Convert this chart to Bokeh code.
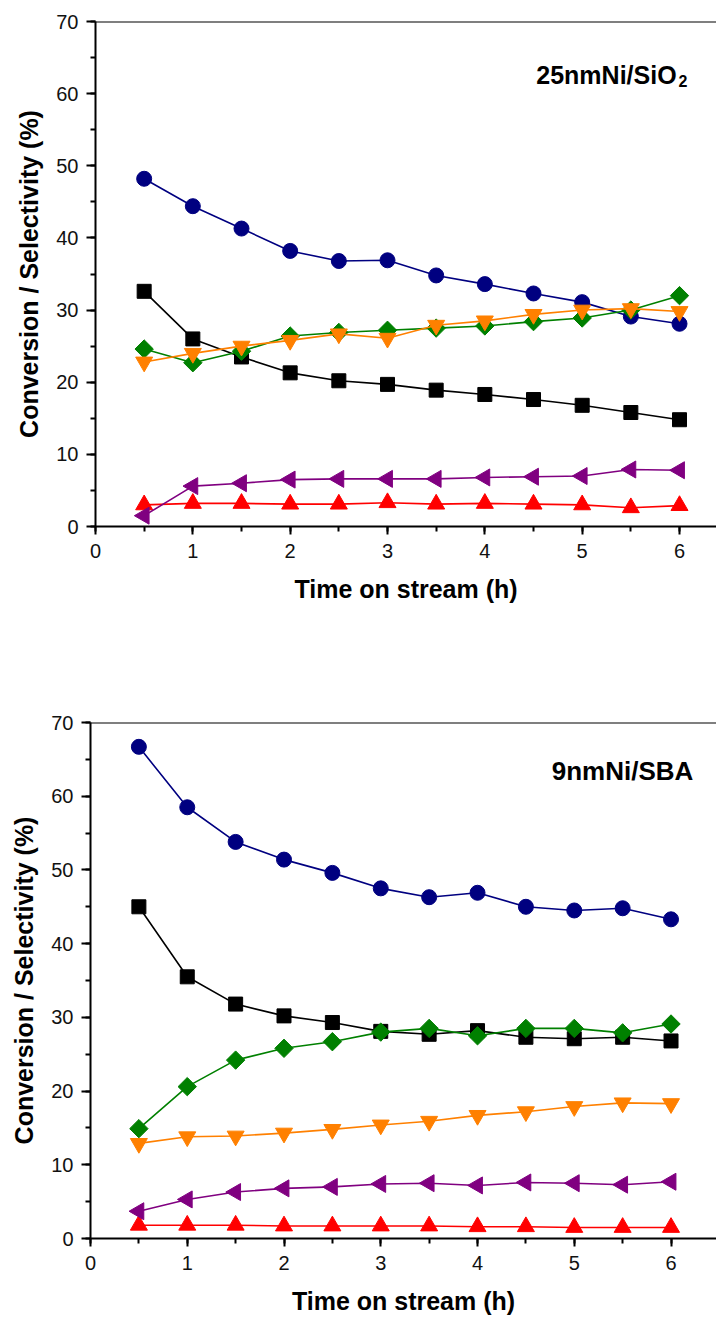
import math
from bokeh.plotting import figure
from bokeh.layouts import column, row
from bokeh.models import Range1d, SingleIntervalTicker, Span, Label
from bokeh.embed import file_html
from bokeh.resources import INLINE

time_h = [0.5, 1.0, 1.5, 2.0, 2.5, 3.0, 3.5, 4.0, 4.5, 5.0, 5.5, 6.0]

# Panel 1: 25nmNi/SiO2
sio2_blue = [48.2, 44.4, 41.3, 38.2, 36.8, 36.9, 34.8, 33.6, 32.3, 31.1, 29.1, 28.1]
sio2_black = [32.6, 26.0, 23.5, 21.3, 20.2, 19.7, 18.9, 18.3, 17.6, 16.8, 15.8, 14.8]
sio2_green = [24.6, 22.7, 24.3, 26.4, 26.9, 27.2, 27.5, 27.8, 28.4, 28.9, 30.0, 32.0]
sio2_orange = [22.8, 24.0, 25.0, 25.8, 26.7, 26.1, 27.9, 28.5, 29.4, 30.0, 30.2, 29.8]
sio2_purple = [1.5, 5.6, 6.0, 6.5, 6.6, 6.6, 6.6, 6.8, 6.9, 7.0, 7.9, 7.8]
sio2_red = [3.0, 3.2, 3.2, 3.1, 3.1, 3.3, 3.1, 3.2, 3.1, 3.0, 2.6, 2.9]

# Panel 2: 9nmNi/SBA
sba_blue = [66.7, 58.5, 53.8, 51.4, 49.6, 47.5, 46.3, 46.9, 45.0, 44.5, 44.8, 43.3]
sba_black = [45.0, 35.5, 31.8, 30.2, 29.3, 28.1, 27.7, 28.2, 27.3, 27.1, 27.3, 26.8]
sba_green = [14.9, 20.6, 24.2, 25.8, 26.7, 28.0, 28.5, 27.5, 28.5, 28.5, 27.9, 29.1]
sba_orange = [12.9, 13.8, 13.9, 14.3, 14.8, 15.4, 15.9, 16.7, 17.2, 17.9, 18.4, 18.3]
sba_purple = [3.7, 5.3, 6.3, 6.8, 7.0, 7.4, 7.5, 7.2, 7.6, 7.5, 7.3, 7.7]
sba_red = [1.8, 1.8, 1.8, 1.7, 1.7, 1.7, 1.7, 1.6, 1.6, 1.5, 1.5, 1.5]

x_ticks_interval = 1
y_ticks_interval = 10
x_title = "Time on stream (h)"
y_title = "Conversion / Selectivity (%)"

FONT = "Liberation Sans"

# key, colour, marker, size, angle
series_style = [
    ("blue", "#000080", "circle", 15, 0.0),
    ("black", "#000000", "square", 14, 0.0),
    ("red", "#FF0000", "triangle", 17, 0.0),
    ("green", "#008000", "square", 13, math.pi / 4),
    ("orange", "#FF8000", "inverted_triangle", 17, 0.0),
    ("purple", "#800080", "triangle", 17, math.pi / 2),
]


def make_panel(data, width, height, border_left, border_top, border_bottom, x_end, label_parts):
    p = figure(width=width, height=height, output_backend="svg", toolbar_location=None,
               x_range=Range1d(0, x_end), y_range=Range1d(0, 70),
               min_border_left=border_left, min_border_right=0,
               min_border_top=border_top, min_border_bottom=border_bottom)
    p.outline_line_color = None
    p.xgrid.visible = False
    p.ygrid.visible = False
    p.background_fill_color = "white"
    p.border_fill_color = "white"

    for ax, interval in ((p.xaxis[0], x_ticks_interval), (p.yaxis[0], y_ticks_interval)):
        ax.ticker = SingleIntervalTicker(interval=interval, num_minor_ticks=2)
        ax.axis_line_width = 2
        ax.axis_line_color = "black"
        ax.major_tick_line_width = 2
        ax.minor_tick_line_width = 2
        ax.major_tick_in = 0
        ax.minor_tick_in = 0
        ax.minor_tick_out = 5
        ax.major_label_text_font = FONT
        ax.major_label_text_font_size = "20px"
        ax.major_label_text_color = "#111111"
        ax.axis_label_text_font = FONT
        ax.axis_label_text_font_style = "bold"
        ax.axis_label_text_font_size = "25px"
        ax.axis_label_text_color = "black"
    p.xaxis[0].major_tick_out = 8
    p.yaxis[0].major_tick_out = 9
    p.xaxis[0].axis_label = x_title
    p.yaxis[0].axis_label = y_title
    p.xaxis[0].major_label_standoff = 9
    p.xaxis[0].axis_label_standoff = 14
    p.yaxis[0].major_label_standoff = 8
    p.yaxis[0].axis_label_standoff = 10

    p.add_layout(Span(location=70, dimension="width", line_color="black", line_width=2))

    for key, color, marker, size, angle in series_style:
        ys = data[key]
        p.line(time_h, ys, line_color=color, line_width=1.6)
        p.scatter(time_h, ys, marker=marker, size=size, angle=angle,
                  fill_color=color, line_color=color)

    (main_txt, main_x, main_y, main_size), sub = label_parts
    p.add_layout(Label(x=main_x, y=main_y, text=main_txt, text_align="right",
                       text_baseline="alphabetic", text_font=FONT, text_font_style="bold",
                       text_font_size=main_size, text_color="black"))
    if sub is not None:
        sub_txt, sub_x, sub_y, sub_size = sub
        p.add_layout(Label(x=sub_x, y=sub_y, text=sub_txt, text_align="left",
                           text_baseline="alphabetic", text_font=FONT, text_font_style="bold",
                           text_font_size=sub_size, text_color="black"))
    return p


data1 = dict(blue=sio2_blue, black=sio2_black, green=sio2_green,
             orange=sio2_orange, purple=sio2_purple, red=sio2_red)
data2 = dict(blue=sba_blue, black=sba_black, green=sba_green,
             orange=sba_orange, purple=sba_purple, red=sba_red)

p1 = make_panel(data1, 716, 700, 95, 21, 174, 6.38,
                (("25nmNi/SiO", 5.97, 62.6, "25px"), ("2", 5.99, 61.8, "16px")))
p2 = make_panel(data2, 716, 619, 90, 22, 81, 6.47,
                (("9nmNi/SBA", 6.23, 63.4, "26px"), None))

layout = column(row(p1), row(p2), spacing=0)
open("out.html", "w").write(file_html(layout, INLINE))
